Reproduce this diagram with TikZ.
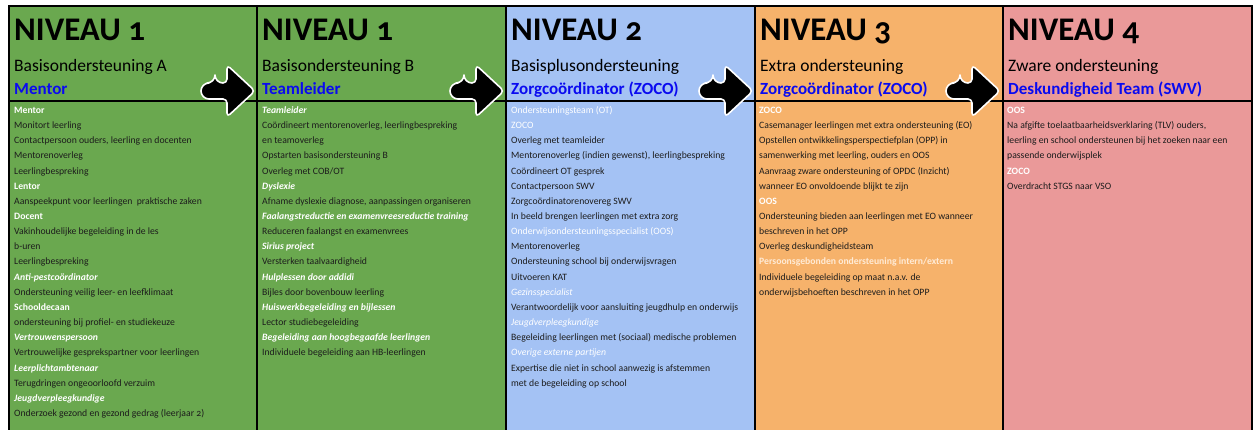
\documentclass[tikz,border=0pt]{standalone}
\usepackage{fontspec}
\setmainfont[Numbers=OldStyle]{Carlito}
\definecolor{cgreen}{HTML}{6AA84F}
\definecolor{cblue}{HTML}{A4C2F4}
\definecolor{corange}{HTML}{F6B26B}
\definecolor{cred}{HTML}{EA9999}
\definecolor{ctext}{HTML}{1C1C1C}
\definecolor{clabel}{HTML}{0A0AF0}
\definecolor{cpeach}{HTML}{FFEBD6}
\newcommand\labB{\bfseries\color{white}}
\newcommand\labBI{\bfseries\itshape\color{white}}
\newcommand\labR{\color{white}}
\newcommand\labI{\itshape\color{white}}
\newcommand\labP{\bfseries\color{cpeach}}
\tikzset{
  title/.style={anchor=base west, inner sep=0pt, font=\fontsize{33}{36}\bfseries\selectfont},
  sub/.style={anchor=base west, inner sep=0pt, font=\fontsize{17.5}{20}\selectfont},
  role/.style={anchor=base west, inner sep=0pt, text=clabel, font=\fontsize{17}{20}\bfseries\selectfont},
  body/.style={anchor=base west, inner sep=0pt, text=ctext, font=\fontsize{9.7}{11}\selectfont},
  border/.style={draw=black, line width=2pt},
  arr/.style={draw=white, fill=black, line width=1.6pt, line join=round, rounded corners=4pt},
}
\begin{document}
\begin{tikzpicture}[x=1pt,y=-1pt]
\useasboundingbox (0,0) rectangle (1256,430);
% column fills
\fill[cgreen] (9,6) rectangle (506,431);
\fill[cblue] (506,6) rectangle (755,431);
\fill[corange] (755,6) rectangle (1003,431);
\fill[cred] (1003,6) rectangle (1252,431);
% headers
\node[title] (h1) at (14,41) {NIVEAU 1};
\node[title] (h2) at (262,41) {NIVEAU 1};
\node[title] (h3) at (511,41) {NIVEAU 2};
\node[title] (h4) at (760,41) {NIVEAU 3};
\node[title] (h5) at (1008,41) {NIVEAU 4};
\node[sub] (s1) at (14,72) {Basisondersteuning A};
\node[sub] (s2) at (262,72) {Basisondersteuning B};
\node[sub] (s3) at (511,72) {Basisplusondersteuning};
\node[sub] (s4) at (760,72) {Extra ondersteuning};
\node[sub] (s5) at (1008,72) {Zware ondersteuning};
\node[role] (r1) at (14,94.5) {Mentor};
\node[role] (r2) at (262,94.5) {Teamleider};
\node[role] (r3) at (511,94.5) {Zorgcoördinator (ZOCO)};
\node[role] (r4) at (760,94.5) {Zorgcoördinator (ZOCO)};
\node[role] (r5) at (1008,94.5) {Deskundigheid Team (SWV)};
% body column 1
\foreach \t [count=\i] in {
 {\labB Mentor},
 {Monitort leerling},
 {Contactpersoon ouders, leerling en docenten},
 {Mentorenoverleg},
 {Leerlingbespreking},
 {\labB Lentor},
 {Aanspeekpunt voor leerlingen\ \ praktische zaken},
 {\labB Docent},
 {Vakinhoudelijke begeleiding in de les},
 {b-uren},
 {Leerlingbespreking},
 {\labBI Anti-pestcoördinator},
 {Ondersteuning veilig leer- en leefklimaat},
 {\labB Schooldecaan},
 {ondersteuning bij profiel- en studiekeuze},
 {\labBI Vertrouwenspersoon},
 {Vertrouwelijke gesprekspartner voor leerlingen},
 {\labBI Leerplichtambtenaar},
 {Terugdringen ongeoorloofd verzuim},
 {\labBI Jeugdverpleegkundige},
 {Onderzoek gezond en gezond gedrag (leerjaar 2)}}
 \node[body] (c1-\i) at (14,{98.35+15.15*\i}) {\t};
% body column 2
\foreach \t [count=\i] in {
 {\labBI Teamleider},
 {Coördineert mentorenoverleg, leerlingbespreking},
 {en teamoverleg},
 {Opstarten basisondersteuning B},
 {Overleg met COB/OT},
 {\labBI Dyslexie},
 {Afname dyslexie diagnose, aanpassingen organiseren},
 {\labBI Faalangstreductie en examenvreesreductie training},
 {Reduceren faalangst en examenvrees},
 {\labBI Sirius project},
 {Versterken taalvaardigheid},
 {\labBI Hulplessen door addidi},
 {Bijles door bovenbouw leerling},
 {\labBI Huiswerkbegeleiding en bijlessen},
 {Lector studiebegeleiding},
 {\labBI Begeleiding aan hoogbegaafde leerlingen},
 {Individuele begeleiding aan HB-leerlingen}}
 \node[body] (c2-\i) at (262,{98.35+15.15*\i}) {\t};
% body column 3
\foreach \t [count=\i] in {
 {\labR Ondersteuningsteam (OT)},
 {\labR ZOCO},
 {Overleg met teamleider},
 {Mentorenoverleg (indien gewenst), leerlingbespreking},
 {Coördineert OT gesprek},
 {Contactpersoon SWV},
 {Zorgcoördinatorenovereg SWV},
 {In beeld brengen leerlingen met extra zorg},
 {\labR Onderwijsondersteuningsspecialist (OOS)},
 {Mentorenoverleg},
 {Ondersteuning school bij onderwijsvragen},
 {Uitvoeren KAT},
 {\labI Gezinsspecialist},
 {Verantwoordelijk voor aansluiting jeugdhulp en onderwijs},
 {\labI Jeugdverpleegkundige},
 {Begeleiding leerlingen met (sociaal) medische problemen},
 {\labI Overige externe partijen},
 {Expertise die niet in school aanwezig is afstemmen},
 {met de begeleiding op school}}
 \node[body] (c3-\i) at (511,{98.35+15.15*\i}) {\t};
% body column 4
\foreach \t [count=\i] in {
 {\labB ZOCO},
 {Casemanager leerlingen met extra ondersteuning (EO)},
 {Opstellen ontwikkelingsperspectiefplan (OPP) in},
 {samenwerking met leerling, ouders en OOS},
 {Aanvraag zware ondersteuning of OPDC (Inzicht)},
 {wanneer EO onvoldoende blijkt te zijn},
 {\labB OOS},
 {Ondersteuning bieden aan leerlingen met EO wanneer},
 {beschreven in het OPP},
 {Overleg deskundigheidsteam},
 {\labP Persoonsgebonden ondersteuning intern/extern},
 {Individuele begeleiding op maat n.a.v. de},
 {onderwijsbehoeften beschreven in het OPP}}
 \node[body] (c4-\i) at (759,{98.35+15.15*\i}) {\t};
% body column 5
\foreach \t [count=\i] in {
 {\labB OOS},
 {Na afgifte toelaatbaarheidsverklaring (TLV) ouders,},
 {leerling en school ondersteunen bij het zoeken naar een},
 {passende onderwijsplek},
 {\labB ZOCO},
 {Overdracht STGS naar VSO}}
 \node[body] (c5-\i) at (1007,{98.35+15.15*\i}) {\t};
% grid lines
\draw[border] (9,431) -- (9,6) -- (1252,6) -- (1252,431);
\foreach \x in {257,506,755,1003} \draw[border] (\x,6) -- (\x,431);
\draw[black, line width=1.5pt] (9,101) -- (1252,101);
% arrows
\foreach \tip in {255,504,753,1000} {
 \draw[arr] (\tip-40,83) -- (\tip-28,83) -- (\tip-28,65) -- (\tip,91) -- (\tip-28,117) -- (\tip-28,99) [rounded corners=8pt] -- (\tip-54,99) -- (\tip-54,83) -- (\tip-40,83) -- cycle;
}
\end{tikzpicture}
\end{document}
